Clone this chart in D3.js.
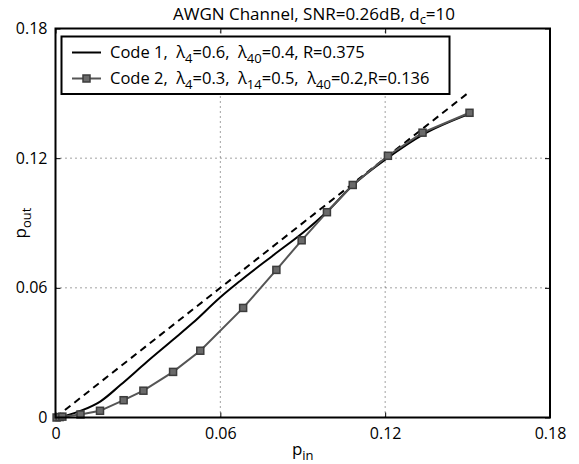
<!DOCTYPE html>
<html>
<head>
<meta charset="utf-8">
<script src="https://cdn.jsdelivr.net/npm/d3@7"></script>
<style>
  body { margin: 0; background: #fff; }
  svg text { font-family: "Open Sans", "Liberation Sans", sans-serif; fill: #000; }
</style>
</head>
<body>
<svg id="chart" width="579" height="464"></svg>
<script>
// data
var ticks = [0, 0.06, 0.12, 0.18];
var tickLabels = ['0', '0.06', '0.12', '0.18'];

var code1In  = [0, 0.005, 0.01, 0.0164, 0.0236, 0.0333, 0.043, 0.05, 0.0597, 0.0673, 0.0794, 0.0915, 0.0988, 0.108, 0.121, 0.1336, 0.1507];
var code1Out = [0, 0.0013, 0.0035, 0.0075, 0.015, 0.0258, 0.0362, 0.0438, 0.0553, 0.0633, 0.0752, 0.087, 0.0952, 0.1072, 0.1202, 0.1308, 0.1405];

var code2In  = [0.0004, 0.0015, 0.0025, 0.0091, 0.0162, 0.0248, 0.032, 0.0428, 0.0527, 0.0683, 0.0804, 0.0896, 0.0988, 0.1082, 0.121, 0.1336, 0.1507];
var code2Out = [0, 0.0002, 0.0004, 0.0014, 0.0031, 0.008, 0.0124, 0.0211, 0.0309, 0.0507, 0.0683, 0.082, 0.095, 0.1076, 0.1211, 0.1318, 0.141];

var diagEnds = [0, 0.1505];

var svg = d3.select('#chart');

var margin = {left: 55.5, right: 29, top: 28.5, bottom: 46.5},
    W = 579, H = 464;

var x = d3.scaleLinear().domain([0, 0.18]).range([margin.left, W - margin.right]),
    y = d3.scaleLinear().domain([0, 0.18]).range([H - margin.bottom, margin.top]);

var NB = '\u00a0';

// grid (dotted)
var grid = svg.append('g').attr('stroke', '#444').attr('stroke-width', 1).attr('stroke-dasharray', '1,4');
[0.06, 0.12].forEach(function(t) {
  grid.append('line').attr('x1', x(t)).attr('x2', x(t)).attr('y1', y(0)).attr('y2', y(0.18));
  grid.append('line').attr('x1', x(0)).attr('x2', x(0.18)).attr('y1', y(t)).attr('y2', y(t));
});

// axes with inward ticks
var axB = svg.append('g').attr('transform', 'translate(0,' + y(0) + ')')
  .call(d3.axisBottom(x).tickValues(ticks).tickFormat(function(d, i) { return tickLabels[i]; }).tickSizeInner(-5).tickSizeOuter(0).tickPadding(10));
var axL = svg.append('g').attr('transform', 'translate(' + x(0) + ',0)')
  .call(d3.axisLeft(y).tickValues(ticks).tickFormat(function(d, i) { return tickLabels[i]; }).tickSizeInner(-5).tickSizeOuter(0).tickPadding(8));
var axT = svg.append('g').attr('transform', 'translate(0,' + y(0.18) + ')')
  .call(d3.axisTop(x).tickValues(ticks).tickFormat('').tickSizeInner(-5).tickSizeOuter(0));
var axR = svg.append('g').attr('transform', 'translate(' + x(0.18) + ',0)')
  .call(d3.axisRight(y).tickValues(ticks).tickFormat('').tickSizeInner(-5).tickSizeOuter(0));

[axB, axL, axT, axR].forEach(function(a) {
  a.select('.domain').remove();
  a.selectAll('line').attr('stroke', '#000').attr('stroke-width', 1);
  a.selectAll('text').style('font-size', '16px').attr('fill', '#000');
});

var line = d3.line().x(function(d) { return x(d[0]); }).y(function(d) { return y(d[1]); });

// dashed diagonal
svg.append('path').datum(diagEnds.map(function(v) { return [v, v]; }))
  .attr('d', line).attr('fill', 'none').attr('stroke', '#000').attr('stroke-width', 2).attr('stroke-dasharray', '7,5');

// code 1
svg.append('path').datum(code1In.map(function(v, i) { return [v, code1Out[i]]; }))
  .attr('d', line.curve(d3.curveMonotoneX)).attr('fill', 'none').attr('stroke', '#000').attr('stroke-width', 2);
line.curve(d3.curveLinear);

// code 2
var code2 = code2In.map(function(v, i) { return [v, code2Out[i]]; });
svg.append('path').datum(code2)
  .attr('d', line).attr('fill', 'none').attr('stroke', '#555').attr('stroke-width', 2);
svg.selectAll('rect.mk').data(code2).enter().append('rect').attr('class', 'mk')
  .attr('x', function(d) { return x(d[0]) - 3.5; }).attr('y', function(d) { return y(d[1]) - 3.5; })
  .attr('width', 7).attr('height', 7).attr('fill', '#6a6a6a').attr('stroke', '#3c3c3c').attr('stroke-width', 1.5);

// box
svg.append('rect').attr('x', x(0)).attr('y', y(0.18)).attr('width', x(0.18) - x(0)).attr('height', y(0) - y(0.18))
  .attr('fill', 'none').attr('stroke', '#000').attr('stroke-width', 2);

// legend
var lg = svg.append('g');
lg.append('rect').attr('x', 61.5).attr('y', 36.5).attr('width', 388).attr('height', 57.5)
  .attr('fill', '#fff').attr('stroke', '#000').attr('stroke-width', 2);

function legendText(g, tx, ty, parts) {
  var t = g.append('text').attr('x', tx).attr('y', ty).style('font-size', '16.5px');
  parts.forEach(function(p) {
    if (p.sub) {
      t.append('tspan').attr('dy', 5).style('font-size', '13px').text(p.sub);
      t.append('tspan').attr('dy', -5).text(p.t);
    } else {
      t.append('tspan').text(p.t);
    }
  });
}

lg.append('line').attr('x1', 72).attr('x2', 101).attr('y1', 52.5).attr('y2', 52.5).attr('stroke', '#000').attr('stroke-width', 2);
legendText(lg, 110, 58, [{t: 'Code 1,' + NB + NB + '\u03bb'}, {sub: '4', t: '=0.6,' + NB + NB + '\u03bb'}, {sub: '40', t: '=0.4, R=0.375'}]);

lg.append('line').attr('x1', 72).attr('x2', 101).attr('y1', 78.5).attr('y2', 78.5).attr('stroke', '#555').attr('stroke-width', 2);
lg.append('rect').attr('x', 83).attr('y', 75).attr('width', 7).attr('height', 7).attr('fill', '#6a6a6a').attr('stroke', '#3c3c3c').attr('stroke-width', 1.5);
legendText(lg, 110, 84, [{t: 'Code 2,' + NB + NB + '\u03bb'}, {sub: '4', t: '=0.3,' + NB + NB + '\u03bb'}, {sub: '14', t: '=0.5,' + NB + NB + '\u03bb'}, {sub: '40', t: '=0.2,R=0.136'}]);

// title
var title = svg.append('text').attr('x', 314).attr('y', 20).attr('text-anchor', 'middle').style('font-size', '17px');
title.append('tspan').text('AWGN Channel, SNR=0.26dB, d');
title.append('tspan').attr('dy', 4).style('font-size', '13px').text('c');
title.append('tspan').attr('dy', -4).text('=10');

// axis labels
var xl = svg.append('text').attr('x', (x(0) + x(0.18)) / 2).attr('y', 455).attr('text-anchor', 'middle').style('font-size', '17px');
xl.append('tspan').text('p');
xl.append('tspan').attr('dy', 5).style('font-size', '13px').text('in');

var yl = svg.append('text').attr('transform', 'translate(26,' + (y(0) + y(0.18)) / 2 + ') rotate(-90)').attr('text-anchor', 'middle').style('font-size', '17px');
yl.append('tspan').text('p');
yl.append('tspan').attr('dy', 5).style('font-size', '13px').text('out');
</script>
</body>
</html>
